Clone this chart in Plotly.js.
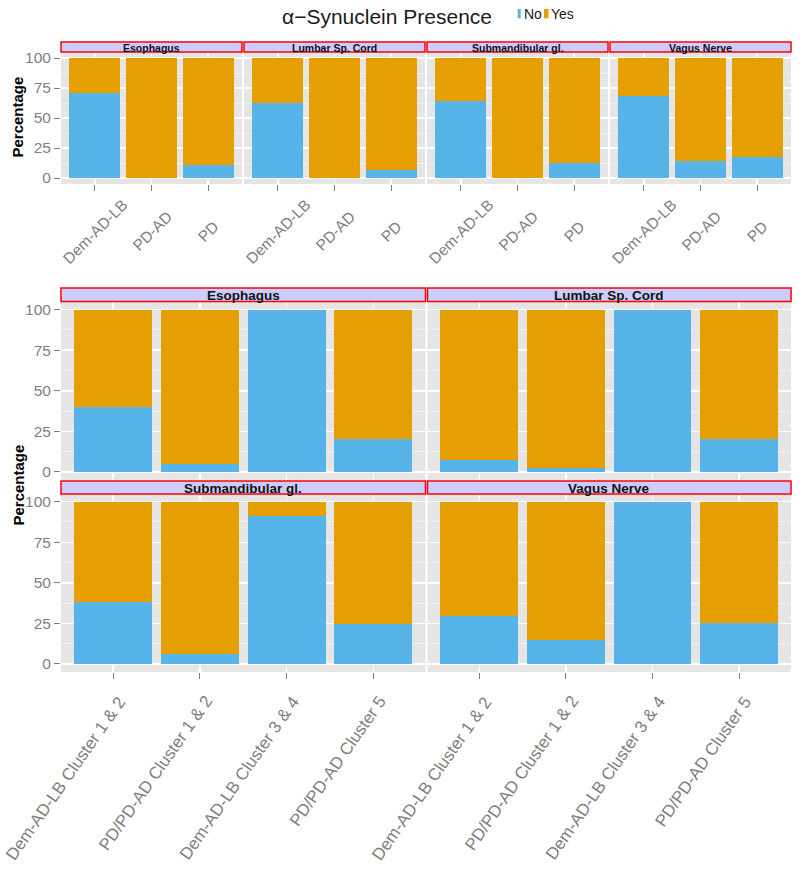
<!DOCTYPE html>
<html><head><meta charset="utf-8">
<script src="https://cdn.plot.ly/plotly-3.0.1.min.js"></script>
<style>html,body{margin:0;padding:0;background:#fff}</style>
</head><body>
<div id="chart" style="width:800px;height:872px"></div>
<script>
// ---------------- data ----------------
const seriesNames = ['No', 'Yes'];
const seriesColors = ['#56B4E9', '#E69F00'];
const tissues = ['Esophagus', 'Lumbar Sp. Cord', 'Submandibular gl.', 'Vagus Nerve'];
const yTicks = [0, 25, 50, 75, 100];

// top panel: diagnosis groups
const topGroups = ['Dem-AD-LB', 'PD-AD', 'PD'];
const topNoEsophagus = [70.6, 0, 10.6];
const topYesEsophagus = [29.4, 100, 89.4];
const topNoLumbar = [62.3, 0, 6.4];
const topYesLumbar = [37.7, 100, 93.6];
const topNoSubmandibular = [64.2, 0, 12.9];
const topYesSubmandibular = [35.8, 100, 87.1];
const topNoVagus = [68.4, 14.0, 17.3];
const topYesVagus = [31.6, 86.0, 82.7];

// bottom panel: cluster groups
const clusterGroups = ['Dem-AD-LB Cluster 1 & 2', 'PD/PD-AD Cluster 1 & 2', 'Dem-AD-LB Cluster 3 & 4', 'PD/PD-AD Cluster 5'];
const clusterNoEsophagus = [40, 5, 100, 20];
const clusterYesEsophagus = [60, 95, 0, 80];
const clusterNoLumbar = [7.4, 2.7, 100, 20];
const clusterYesLumbar = [92.6, 97.3, 0, 80];
const clusterNoSubmandibular = [38.2, 6.3, 91.4, 24.8];
const clusterYesSubmandibular = [61.8, 93.7, 8.6, 75.2];
const clusterNoVagus = [29.8, 14.8, 100, 25];
const clusterYesVagus = [70.2, 85.2, 0, 75];

// ---------------- layout helpers ----------------
const W = 800, H = 872;
const px = v => v / W;
const py = v => 1 - v / H;
const FONT = 'Liberation Sans, Arial, Helvetica, sans-serif';
const GREY = '#7F7F7F';

const topNo = [topNoEsophagus, topNoLumbar, topNoSubmandibular, topNoVagus];
const topYes = [topYesEsophagus, topYesLumbar, topYesSubmandibular, topYesVagus];
const clNo = [clusterNoEsophagus, clusterNoLumbar, clusterNoSubmandibular, clusterNoVagus];
const clYes = [clusterYesEsophagus, clusterYesLumbar, clusterYesSubmandibular, clusterYesVagus];

// facet geometry (pixels)
const topX = [[61, 242], [244, 425], [427, 608], [610, 791]];
const topY = [52, 184];
const botX = [[61, 425.5], [427.5, 791]];
const botY = [[301.5, 480], [493.6, 672]];

const data = [];
const layout = {
  width: W, height: H,
  margin: {l: 0, r: 0, t: 0, b: 0},
  paper_bgcolor: '#FFFFFF',
  plot_bgcolor: '#E5E5E5',
  barmode: 'stack',
  showlegend: false,
  font: {family: FONT, color: GREY},
  title: {
    text: 'α−Synuclein Presence',
    font: {family: FONT, size: 21, color: '#1a1a1a'},
    x: px(387), xanchor: 'center', xref: 'paper',
    y: py(17), yanchor: 'middle'
  },
  shapes: [],
  annotations: []
};

function xAxisDef(domain, anchor, cats, withTicks) {
  return {
    domain: [px(domain[0]), px(domain[1])],
    anchor: anchor,
    type: 'category',
    categoryorder: 'array', categoryarray: cats,
    range: [-0.6, cats.length - 0.4],
    showgrid: true, gridcolor: '#FFFFFF', gridwidth: 1.5,
    zeroline: false, showline: false,
    showticklabels: false,
    ticks: withTicks ? 'outside' : '', ticklen: 6, tickwidth: 1, tickcolor: GREY,
    fixedrange: true
  };
}
function yAxisDef(domainPx, anchor) {
  return {
    domain: [py(domainPx[1]), py(domainPx[0])],
    anchor: anchor,
    range: [-5, 105],
    tickmode: 'linear', tick0: 0, dtick: 25,
    ticks: 'outside', ticklen: 6, tickwidth: 1, tickcolor: GREY,
    tickfont: {family: FONT, size: 15.5, color: GREY},
    showgrid: true, gridcolor: '#FFFFFF', gridwidth: 1.5,
    minor: {tick0: 0, dtick: 12.5, showgrid: true, gridcolor: '#F2F2F2', gridwidth: 0.8, ticks: ''},
    zeroline: false, showline: false,
    fixedrange: true
  };
}
function strip(x0, x1, y0, y1, label, size, textY) {
  layout.shapes.push({
    type: 'rect', xref: 'paper', yref: 'paper',
    x0: px(x0), x1: px(x1), y0: py(y1), y1: py(y0),
    fillcolor: '#CCCCFF', line: {color: '#FF0000', width: 1.5}, layer: 'above'
  });
  layout.annotations.push({
    xref: 'paper', yref: 'paper', x: px((x0 + x1) / 2), y: py(textY),
    xanchor: 'center', yanchor: 'middle', showarrow: false,
    text: '<b>' + label + '</b>', font: {family: FONT, size: size, color: '#111111'}
  });
}

// ---- top panel ----
layout.yaxis = yAxisDef(topY, 'x');
tissues.forEach((t, i) => {
  const xn = i === 0 ? 'x' : 'x' + (i + 1);
  const key = i === 0 ? 'xaxis' : 'xaxis' + (i + 1);
  layout[key] = xAxisDef(topX[i], 'y', topGroups, true);
  [topNo[i], topYes[i]].forEach((vals, s) => {
    data.push({
      type: 'bar', x: topGroups, y: vals, name: seriesNames[s],
      marker: {color: seriesColors[s], line: {width: 0}},
      width: 0.9, xaxis: xn, yaxis: 'y', showlegend: false, hoverinfo: 'x+y+name'
    });
  });
  strip(topX[i][0], topX[i][1], 42, 52, t, 10.5, 47.5);
  topGroups.forEach(g => {
    layout.annotations.push({
      xref: xn, yref: 'paper', x: g, y: py(231),
      xanchor: 'center', yanchor: 'middle', textangle: -45, showarrow: false,
      text: g, font: {family: FONT, size: 15.5, color: GREY}
    });
  });
});

// ---- bottom panel (2 x 2) ----
layout.yaxis2 = yAxisDef(botY[0], 'x5');
layout.yaxis3 = yAxisDef(botY[1], 'x7');
tissues.forEach((t, i) => {
  const n = 5 + i;
  const row = i < 2 ? 0 : 1;
  const col = i % 2;
  const xn = 'x' + n;
  const yn = row === 0 ? 'y2' : 'y3';
  layout['xaxis' + n] = xAxisDef(botX[col], yn, clusterGroups, row === 1);
  [clNo[i], clYes[i]].forEach((vals, s) => {
    data.push({
      type: 'bar', x: clusterGroups, y: vals, name: seriesNames[s],
      marker: {color: seriesColors[s], line: {width: 0}},
      width: 0.9, xaxis: xn, yaxis: yn, showlegend: false, hoverinfo: 'x+y+name'
    });
  });
  const sy = row === 0 ? [288, 301.5] : [481, 494];
  strip(botX[col][0], botX[col][1], sy[0], sy[1], t, 13.5, (sy[0] + sy[1]) / 2 + 1);
  if (row === 1) {
    clusterGroups.forEach(g => {
      layout.annotations.push({
        xref: xn, yref: 'paper', x: g, y: py(690), xshift: 19,
        xanchor: 'right', yanchor: 'top', textangle: -55, showarrow: false,
        text: g, font: {family: FONT, size: 17, color: GREY}
      });
    });
  }
});

// ---- y-axis titles ----
[[17.5, 117], [17.5, 485]].forEach(p => {
  layout.annotations.push({
    xref: 'paper', yref: 'paper', x: px(p[0]), y: py(p[1]),
    xanchor: 'center', yanchor: 'middle', textangle: -90, showarrow: false,
    text: '<b>Percentage</b>', font: {family: FONT, size: 15, color: '#000000'}
  });
});

// ---- legend (keys + labels) ----
const legendKeys = [[517.7, 520.7], [544, 548.5]];
const legendText = [522.5, 549.5];
seriesNames.forEach((nm, s) => {
  layout.shapes.push({
    type: 'rect', xref: 'paper', yref: 'paper',
    x0: px(legendKeys[s][0]), x1: px(legendKeys[s][1]), y0: py(18.3), y1: py(9),
    fillcolor: seriesColors[s], line: {width: 0}
  });
  layout.annotations.push({
    xref: 'paper', yref: 'paper', x: px(legendText[s]), y: py(14),
    xanchor: 'left', yanchor: 'middle', showarrow: false,
    text: nm, font: {family: FONT, size: 14, color: '#1a1a1a'}, borderpad: 0
  });
});

Plotly.newPlot('chart', data, layout, {displayModeBar: false, staticPlot: true});
</script>
</body></html>
